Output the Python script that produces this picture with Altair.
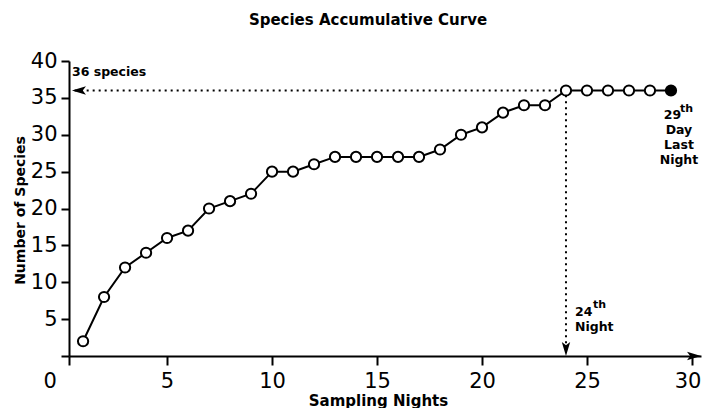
import altair as alt
import pandas as pd

# ---- data ----
nights = list(range(1, 30))
species = [2, 8, 12, 14, 16, 17, 20, 21, 22, 25, 25, 26, 27, 27, 27, 27, 27, 28,
           30, 31, 33, 34, 34, 36, 36, 36, 36, 36, 36]
last_night = 29
plateau_night = 24
plateau_species = 36

x_ticks = [0.33, 5, 10, 15, 20, 25, 30]
y_ticks = [0, 5, 10, 15, 20, 25, 30, 35, 40]
x_domain = [0.33, 30.43]
y_domain = [0, 40]

FONT = "DejaVu Sans"

df = pd.DataFrame({"night": nights, "species": species})
df["filled"] = df["night"] == last_night

xs = alt.Scale(domain=x_domain, nice=False, zero=False)
ys = alt.Scale(domain=y_domain, nice=False, zero=False)

X = alt.X("night:Q", scale=xs,
          axis=alt.Axis(values=x_ticks, title="Sampling Nights",
                        labelExpr="datum.value < 1 ? '' : datum.label",
                        labelOverlap=False, labelFlush=10, labelFlushOffset=9,
                        titleFontSize=15, titleFontWeight="bold",
                        titleBaseline="alphabetic", titleY=49, titleX=309,
                        titleAlign="center"))
Y = alt.Y("species:Q", scale=ys,
          axis=alt.Axis(values=y_ticks, title="Number of Species",
                        labelExpr="datum.value == 0 ? '' : datum.label",
                        labelOverlap=False, labelFlush=False,
                        titleFontSize=14, titleFontWeight="bold",
                        titleX=-49, titleY=149, titleAlign="center",
                        titleBaseline="middle"))


def enc(ch, **kw):
    return ch.encode(x=X, y=Y, **kw)


line = enc(alt.Chart(df).mark_line(color="black", strokeWidth=2))
pts = enc(alt.Chart(df).mark_point(size=105, strokeWidth=2, opacity=1, stroke="black"),
          fill=alt.condition("datum.filled", alt.value("black"), alt.value("white")))

# dotted guide lines
hline = pd.DataFrame({"night": [0.6], "n2": [plateau_night],
                      "species": [plateau_species]})
vline = pd.DataFrame({"night": [plateau_night], "species": [0.9],
                      "s2": [plateau_species]})
dash = dict(color="black", strokeWidth=2, strokeDash=[2, 4])
h = alt.Chart(hline).mark_rule(**dash).encode(x=X, x2="n2:Q", y=Y)
v = alt.Chart(vline).mark_rule(**dash).encode(x=X, y=Y, y2="s2:Q")

ARROW_LEFT = "M-1,0 L1,-0.6 L0.55,0 L1,0.6 Z"
ARROW_RIGHT = "M1,0 L-1,-0.6 L-0.55,0 L-1,0.6 Z"
ARROW_DOWN = "M0,1 L-0.6,-1 L0,-0.55 L0.6,-1 Z"

a_left = enc(alt.Chart(pd.DataFrame({"night": [0.47], "species": [plateau_species]})).mark_point(
    shape=ARROW_LEFT, size=196, filled=True, color="black", opacity=1, xOffset=7, clip=False))
a_down = enc(alt.Chart(pd.DataFrame({"night": [plateau_night], "species": [0]})).mark_point(
    shape=ARROW_DOWN, size=196, filled=True, color="black", opacity=1, yOffset=-7, clip=False))
a_right = enc(alt.Chart(pd.DataFrame({"night": [x_domain[1]], "species": [0]})).mark_point(
    shape=ARROW_RIGHT, size=196, filled=True, color="black", opacity=1, xOffset=-7, clip=False))

# annotation texts
ann_txt = ["36 species", "24", "Night", "29", "Day", "Last", "Night"]
ann_x = [0.47, 24.43, 24.43, 28.66, 29.38, 29.38, 29.38]
ann_y = [38.5, 5.97, 3.93, 32.68, 30.6, 28.6, 26.6]
ann_align = ["left", "left", "left", "left", "center", "center", "center"]
ann = pd.DataFrame({"night": ann_x, "species": ann_y, "text": ann_txt, "align": ann_align})
texts = []
for al in ["left", "center"]:
    texts.append(enc(alt.Chart(ann[ann["align"] == al]).mark_text(
        font=FONT, fontSize=12.5, fontWeight="bold", align=al, baseline="middle",
        color="black", clip=False), text="text:N"))

sup = pd.DataFrame({"night": [25.29, 29.43], "species": [6.9, 33.5], "text": ["th", "th"]})
sup_t = enc(alt.Chart(sup).mark_text(
    font=FONT, fontSize=11, fontWeight="bold", align="left", baseline="middle",
    color="black", clip=False), text="text:N")

zero = pd.DataFrame({"night": [-0.57], "species": [-3.5], "text": ["0"]})
zero_t = enc(alt.Chart(zero).mark_text(
    font=FONT, fontSize=21, align="center", baseline="middle", color="black", clip=False),
    text="text:N")

chart = alt.layer(line, h, v, a_left, a_down, a_right, pts, *texts, sup_t, zero_t).properties(
    width=632, height=295,
    title=alt.Title("Species Accumulative Curve", font=FONT, fontSize=15, fontWeight="bold",
                    anchor="middle", dx=-17, offset=22, color="black"),
    autosize=alt.AutoSizeParams(type="none"),
    padding={"left": 61, "top": 53, "right": 1, "bottom": 52},
).configure_view(stroke=None).configure_axis(
    grid=False, domainColor="black", domainWidth=2, tickColor="black", tickWidth=2,
    tickSize=8, labelFont=FONT, labelFontSize=21, labelColor="black", titleFont=FONT,
    titleColor="black", labelPadding=4,
).configure_axisX(labelPadding=5, tickSize=9)

chart.save("out.html", embed_options={"renderer": "svg", "actions": False})
